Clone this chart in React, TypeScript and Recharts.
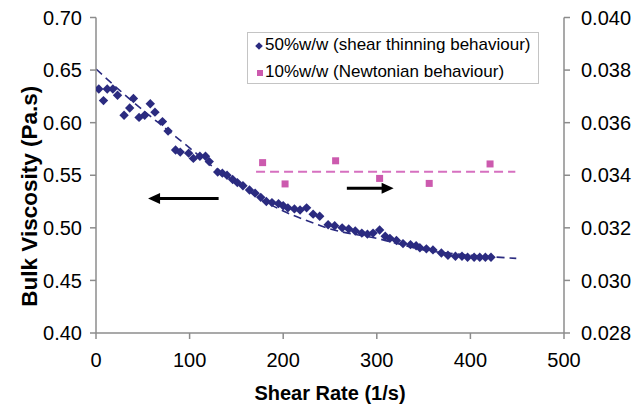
import React from 'react';
import { ComposedChart, Scatter, Line, XAxis, YAxis, Legend, ReferenceLine, Label } from 'recharts';

const FONT = '"Liberation Sans", Arial, Helvetica, sans-serif';
const NAVY = '#2B2B80';
const PINK = '#CC5AAE';
const PINK_DASH = '#D670C0';

// 50% w/w series (left axis)
const shear50 = [3, 8, 12, 18, 23, 30, 36, 40, 46, 52, 58, 63, 71, 77, 85, 90, 99, 104, 111, 117, 121, 130, 135, 140, 146, 151, 157, 164, 170, 176, 182, 188, 195, 200, 205, 212, 218, 225, 232, 239, 248, 255, 263, 270, 277, 284, 290, 296, 303, 309, 314, 321, 328, 336, 342, 346, 353, 360, 369, 376, 384, 391, 397, 404, 410, 416, 422];
const visc50 = [0.632, 0.621, 0.632, 0.632, 0.626, 0.607, 0.614, 0.623, 0.605, 0.607, 0.618, 0.610, 0.601, 0.592, 0.574, 0.572, 0.571, 0.566, 0.568, 0.568, 0.563, 0.553, 0.552, 0.550, 0.546, 0.543, 0.540, 0.536, 0.533, 0.529, 0.525, 0.524, 0.523, 0.521, 0.519, 0.518, 0.517, 0.519, 0.513, 0.511, 0.503, 0.502, 0.500, 0.499, 0.497, 0.495, 0.494, 0.495, 0.498, 0.492, 0.490, 0.488, 0.485, 0.484, 0.483, 0.481, 0.480, 0.479, 0.476, 0.474, 0.473, 0.473, 0.472, 0.472, 0.472, 0.472, 0.472];

// 10% w/w series (right axis)
const shear10 = [178, 202, 256, 303, 356, 421];
const visc10 = [0.03448, 0.03367, 0.03455, 0.03388, 0.03369, 0.03443];

// trend lines
const trend50X = [0, 25, 50, 75, 100, 125, 150, 175, 200, 225, 250, 300, 350, 400, 449];
const trend50Y = [0.651, 0.631, 0.612, 0.594, 0.576, 0.558, 0.543, 0.528, 0.516, 0.507, 0.499, 0.490, 0.479, 0.474, 0.471];
const trend10X = [171, 448];
const trend10Y = [0.03413, 0.03413];

// annotation arrows (left axis units)
const arrowLeftX = [131, 55.6];
const arrowLeftY = [0.528, 0.528];
const arrowRightX = [268, 318];
const arrowRightY = [0.5376, 0.5376];

const xTicks = [0, 100, 200, 300, 400, 500];
const leftTicks = [0.4, 0.45, 0.5, 0.55, 0.6, 0.65, 0.7];
const rightTicks = [0.028, 0.03, 0.032, 0.034, 0.036, 0.038, 0.04];

const seriesNames = ['50%w/w (shear thinning behaviour)', '10%w/w (Newtonian behaviour)'];

const data50 = shear50.map((x, i) => ({ x, y: visc50[i] }));
const data10 = shear10.map((x, i) => ({ x, y: visc10[i] }));
const trend50 = trend50X.map((x, i) => ({ x, y: trend50Y[i] }));
const trend10 = trend10X.map((x, i) => ({ x, y: trend10Y[i] }));

const DiamondShape = (p: any) => {
  const { cx, cy } = p;
  const r = 4.7;
  return <polygon points={`${cx},${cy - r} ${cx + r},${cy} ${cx},${cy + r} ${cx - r},${cy}`} fill={NAVY} />;
};

const SquareShape = (p: any) => {
  const { cx, cy } = p;
  const s = 7;
  return <rect x={cx - s / 2} y={cy - s / 2} width={s} height={s} fill={PINK} />;
};

const Arrow = (p: any) => {
  const { x1, y1, x2, y2 } = p;
  const dx = x2 - x1;
  const dy = y2 - y1;
  const len = Math.hypot(dx, dy) || 1;
  const ux = dx / len;
  const uy = dy / len;
  const hl = 12;
  const hw = 5.5;
  const bx = x2 - ux * hl;
  const by = y2 - uy * hl;
  return (
    <g>
      <line x1={x1} y1={y1} x2={bx + ux} y2={by + uy} stroke="#000" strokeWidth={3} />
      <polygon points={`${x2},${y2} ${bx - uy * hw},${by + ux * hw} ${bx + uy * hw},${by - ux * hw}`} fill="#000" />
    </g>
  );
};

const renderLegend = () => (
  <div
    style={{
      position: 'relative',
      width: 292,
      height: 52,
      border: '1px solid #c4c4c4',
      background: '#fff',
      boxSizing: 'border-box',
      fontFamily: FONT,
      fontSize: 17,
      color: '#000',
      lineHeight: '20px',
      whiteSpace: 'nowrap',
    }}
  >
    <svg style={{ position: 'absolute', left: 6, top: 8 }} width={10} height={10}>
      <polygon points="5,1.2 8.8,5 5,8.8 1.2,5" fill={NAVY} />
    </svg>
    <span style={{ position: 'absolute', left: 17, top: 2 }}>{seriesNames[0]}</span>
    <svg style={{ position: 'absolute', left: 7, top: 35 }} width={10} height={10}>
      <rect x={2} y={2} width={6} height={6} fill={PINK} />
    </svg>
    <span style={{ position: 'absolute', left: 17, top: 29 }}>{seriesNames[1]}</span>
  </div>
);

const YTitle = (props: any) => {
  const vb = props.viewBox || { x: 26, y: 17.5, width: 70, height: 315.5 };
  const cx = vb.x + 3.5;
  const cy = vb.y + vb.height / 2 + 21;
  return (
    <text
      x={cx}
      y={cy}
      transform={`rotate(-90 ${cx} ${cy})`}
      textAnchor="middle"
      dominantBaseline="central"
      fontFamily={FONT}
      fontWeight="bold"
      fontSize={22.5}
      fill="#000"
    >
      Bulk Viscosity (Pa.s)
    </text>
  );
};

const tickStyle = { fill: '#000', fontSize: 20, fontFamily: FONT };
const axisStroke = '#8c8c8c';

export default function App() {
  return (
    <div style={{ position: 'absolute', left: 0, top: 0, width: 634, height: 405, background: '#fff' }}>
      <ComposedChart width={634} height={405} margin={{ top: 17.5, right: 0, bottom: 0, left: 26 }}>
        <XAxis
          type="number"
          dataKey="x"
          domain={[0, 500]}
          ticks={xTicks}
          tickSize={6}
          tickMargin={14}
          height={72}
          tick={tickStyle}
          axisLine={{ stroke: axisStroke, strokeWidth: 1.5 }}
          tickLine={{ stroke: axisStroke, strokeWidth: 1.5 }}
          allowDataOverflow
        >
          <Label value="Shear Rate (1/s)" position="insideBottom" offset={5} fill="#000" fontSize={20} fontWeight="bold" fontFamily={FONT} />
        </XAxis>
        <YAxis
          yAxisId="left"
          type="number"
          domain={[0.4, 0.7]}
          ticks={leftTicks}
          tickFormatter={(v: number) => v.toFixed(2)}
          width={70}
          tickSize={6}
          tickMargin={8}
          tick={tickStyle}
          axisLine={{ stroke: axisStroke, strokeWidth: 1.5 }}
          tickLine={{ stroke: axisStroke, strokeWidth: 1.5 }}
          allowDataOverflow
        >
          <Label content={YTitle} />
        </YAxis>
        <YAxis
          yAxisId="right"
          orientation="right"
          type="number"
          domain={[0.028, 0.04]}
          ticks={rightTicks}
          tickFormatter={(v: number) => v.toFixed(3)}
          width={70}
          tickSize={6}
          tickMargin={11}
          tick={tickStyle}
          axisLine={{ stroke: axisStroke, strokeWidth: 1.5 }}
          tickLine={{ stroke: axisStroke, strokeWidth: 1.5 }}
          allowDataOverflow
        />
        <Legend
          layout="horizontal"
          verticalAlign="middle"
          align="center"
          content={renderLegend}
          wrapperStyle={{ left: 247, top: 32, width: 292, height: 52 }}
        />
        <Line
          yAxisId="left"
          data={trend50}
          dataKey="y"
          type="monotone"
          stroke={NAVY}
          strokeWidth={1.6}
          strokeDasharray="8 5"
          dot={false}
          activeDot={false}
          legendType="none"
          isAnimationActive={false}
        />
        <Line
          yAxisId="right"
          data={trend10}
          dataKey="y"
          type="linear"
          stroke={PINK_DASH}
          strokeWidth={2}
          strokeDasharray="9 5"
          dot={false}
          activeDot={false}
          legendType="none"
          isAnimationActive={false}
        />
        <Scatter
          yAxisId="left"
          name={seriesNames[0]}
          data={data50}
          dataKey="y"
          shape={DiamondShape}
          isAnimationActive={false}
        />
        <Scatter
          yAxisId="right"
          name={seriesNames[1]}
          data={data10}
          dataKey="y"
          shape={SquareShape}
          isAnimationActive={false}
        />
        <ReferenceLine
          yAxisId="left"
          segment={[
            { x: arrowLeftX[0], y: arrowLeftY[0] },
            { x: arrowLeftX[1], y: arrowLeftY[1] },
          ]}
          shape={Arrow}
        />
        <ReferenceLine
          yAxisId="left"
          segment={[
            { x: arrowRightX[0], y: arrowRightY[0] },
            { x: arrowRightX[1], y: arrowRightY[1] },
          ]}
          shape={Arrow}
        />
      </ComposedChart>
    </div>
  );
}
